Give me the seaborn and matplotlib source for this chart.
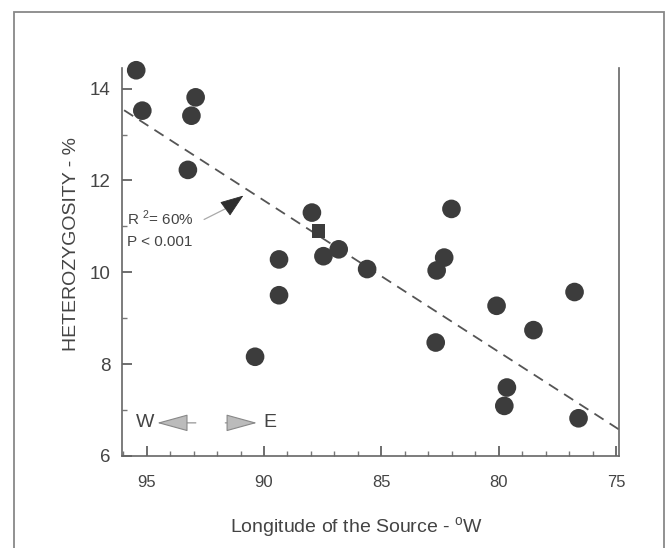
import matplotlib
matplotlib.use("Agg")
import matplotlib.pyplot as plt
import seaborn as sns
import pandas as pd
from matplotlib.patches import Rectangle
from matplotlib.ticker import MultipleLocator

# values
longitude = [95.44, 95.18, 92.91, 93.09, 93.24, 87.96, 87.47, 86.82, 85.61,
             89.36, 89.36, 90.38, 82.02, 82.33, 82.65, 82.69, 80.10, 78.53,
             76.78, 79.66, 79.77, 76.61]
heterozygosity = [14.40, 13.52, 13.81, 13.41, 12.23, 11.30, 10.35, 10.50, 10.07,
                  10.28, 9.50, 8.16, 11.38, 10.32, 10.04, 8.47, 9.27, 8.74,
                  9.57, 7.49, 7.09, 6.82]
square_lon = [87.68]
square_het = [10.90]
fit_lon = [96.05, 74.9]
fit_het = [13.56, 6.58]
x_ticks = [95, 90, 85, 80, 75]
y_ticks = [6, 8, 10, 12, 14]

sns.set_style("white")
plt.rcParams["font.family"] = ["Liberation Sans", "DejaVu Sans"]
ink = "#444444"

fig = plt.figure(figsize=(6.66, 5.48), dpi=100)
ax = fig.add_axes([0.183, 0.168, 0.746, 0.708])

df = pd.DataFrame({"lon": longitude, "het": heterozygosity})
sq = pd.DataFrame({"lon": square_lon, "het": square_het})
fit = pd.DataFrame({"lon": fit_lon, "het": fit_het})

sns.lineplot(data=fit, x="lon", y="het", ax=ax, color="#555555",
             linestyle=(0, (6, 4)), linewidth=1.3, zorder=1)
sns.scatterplot(data=df, x="lon", y="het", ax=ax, s=180, color="#3c3c3c",
                edgecolor="none", marker="o", zorder=3, clip_on=False)
sns.scatterplot(data=sq, x="lon", y="het", ax=ax, s=95, color="#3c3c3c",
                edgecolor="none", marker="s", zorder=3, clip_on=False)

ax.set_xlim(96.05, 74.9)
ax.set_ylim(6, 14.45)
ax.set_xticks(x_ticks)
ax.set_yticks(y_ticks)
ax.xaxis.set_minor_locator(MultipleLocator(1))
ax.yaxis.set_minor_locator(MultipleLocator(1))
ax.tick_params(which="both", bottom=True, left=True, top=False, right=False)
ax.tick_params(which="major", direction="in", length=7, width=1.2,
               color="#555555", labelcolor=ink)
ax.tick_params(which="minor", direction="in", length=3.5, width=1,
               color="#777777")
ax.tick_params(axis="x", which="major", labelsize=12, pad=14)
ax.tick_params(axis="y", which="major", labelsize=13.5, pad=8)

for side in ["left", "bottom", "right"]:
    ax.spines[side].set_visible(True)
    ax.spines[side].set_color("#666666")
    ax.spines[side].set_linewidth(1.2)
ax.spines["top"].set_visible(False)

ax.set_xlabel("Longitude of the Source - $^{\\mathregular{o}}$W", fontsize=14,
              color=ink)
ax.set_ylabel("HETEROZYGOSITY - %", fontsize=14, color=ink)
ax.xaxis.set_label_coords(0.473, -0.152)
ax.yaxis.set_label_coords(-0.085, 0.546)

# R^2 annotation with arrow
ax.text(95.85, 11.17, "R $^{\\mathregular{2}}$= 60%", fontsize=11, color=ink,
        va="center", ha="left")
ax.text(95.85, 10.65, "P < 0.001", fontsize=11, color=ink,
        va="center", ha="left")
ax.annotate("", xy=(91.5, 11.42), xytext=(92.55, 11.15),
            arrowprops=dict(arrowstyle="-", color="#aaaaaa", lw=0.9,
                            shrinkA=0, shrinkB=0))
ax.annotate("", xy=(90.88, 11.67), xytext=(91.6, 11.40),
            arrowprops=dict(arrowstyle="-|>,head_length=1.5,head_width=0.55",
                            color="#2e2e2e", lw=0.6, shrinkA=0, shrinkB=0))

# W / E direction arrows
ax.text(95.05, 6.72, "W", fontsize=14, color=ink, va="center", ha="center")
ax.text(89.75, 6.72, "E", fontsize=14, color=ink, va="center", ha="center")
ax.annotate("", xy=(94.55, 6.72), xytext=(92.9, 6.72),
            arrowprops=dict(arrowstyle="-|>,head_length=2.0,head_width=0.55",
                            facecolor="#bbbbbb", edgecolor="#888888", lw=0.8,
                            shrinkA=0, shrinkB=0))
ax.annotate("", xy=(90.3, 6.72), xytext=(91.65, 6.72),
            arrowprops=dict(arrowstyle="-|>,head_length=2.0,head_width=0.55",
                            facecolor="#bbbbbb", edgecolor="#888888", lw=0.8,
                            shrinkA=0, shrinkB=0))

# outer frame of the figure panel
fig.add_artist(Rectangle((0.021, -0.02), 0.976, 0.998, transform=fig.transFigure,
                         fill=False, edgecolor="#888888", linewidth=1.3))

fig.savefig("out.png", dpi=100)
